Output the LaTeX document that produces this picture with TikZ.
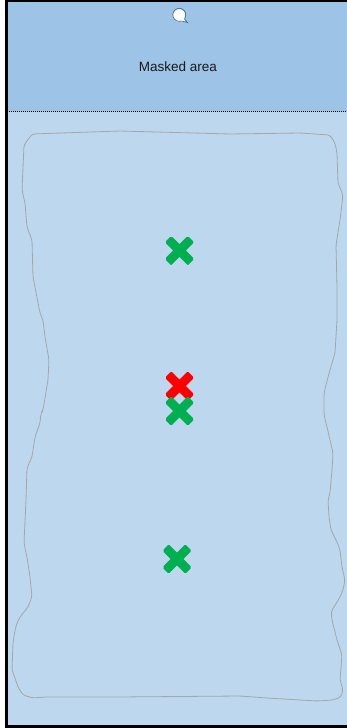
\documentclass[tikz,border=0pt]{standalone}
\usepackage{fontspec}
\setsansfont{Liberation Sans}
\usepackage{xcolor}

\definecolor{maskblue}{HTML}{9DC3E6}
\definecolor{areablue}{HTML}{BDD7EE}
\definecolor{outlinegray}{HTML}{A6A6A6}
\definecolor{goodgreen}{HTML}{00B050}
\definecolor{bubbleline}{HTML}{41719C}

\begin{document}
\begin{tikzpicture}[x=1pt, y=-1pt,
        xmark/.style={minimum size=27pt, inner sep=0pt,
            path picture={\draw[#1, line width=9pt]
                ([shift={(2,2)}]path picture bounding box.north west) -- ([shift={(-2,-2)}]path picture bounding box.south east)
                ([shift={(-2,2)}]path picture bounding box.north east) -- ([shift={(2,-2)}]path picture bounding box.south west);}}]
        \useasboundingbox (0,0) rectangle (347,728);

        % Regions
        \fill[areablue] (6.5,111) rectangle (348,726.5);
        \fill[maskblue] (6.5,1) rectangle (348,111);
        \draw[line width=1pt, dash pattern=on 1pt off 1pt] (6.5,111) -- (348,111);
        \node[font=\sffamily\fontsize{13.5}{15}\selectfont, text=black!90] (masklabel) at (178,67) {Masked area};

        % Comment bubble
        \draw[bubbleline, fill=white, line width=0.8pt] (184.5,19) -- (187.5,22.5) -- (181.5,21);
        \fill[white] (179,15.5) circle (6.5);
        \draw[bubbleline, line width=0.8pt] (181.5,21) arc (70:395:6.5);

        % Frame
        \draw[line width=2.2pt] (348,1) -- (6.5,1) -- (6.5,726.5) -- (348,726.5);

        % Hand drawn outline
        \draw[outlinegray, line width=0.8pt, rounded corners=3pt]
            (32,134) -- (120,131) -- (230,134) -- (300,133) -- (330,135) -- (335,143) -- (337,153)
            -- (338,183) -- (343,195) -- (340,220) -- (336,245) -- (337,287) -- (337,320)
            -- (335,353) -- (330,370) -- (328,377) -- (324,393) -- (324,415) -- (327,427)
            -- (333,453) -- (332,470) -- (330,493) -- (328,500) -- (329,517) -- (331,530)
            -- (337,542) -- (340,550) -- (342,567) -- (345,580) -- (343,590) -- (340,597)
            -- (331,612) -- (332,620) -- (337,640) -- (342,655) -- (340,680) -- (343,690)
            -- (341,697) -- (333,700) -- (317,701) -- (267,698) -- (240,696) -- (117,697)
            -- (45,697) -- (33,698) -- (23,695) -- (18,687) -- (15,678) -- (12,670)
            -- (13,643) -- (15,630) -- (17,623) -- (20,617) -- (28,607) -- (32,597)
            -- (30,577) -- (27,557) -- (24,543) -- (26,500) -- (27,468) -- (32,457)
            -- (35,437) -- (40,423) -- (41,413) -- (43,410) -- (48,380) -- (49,360)
            -- (45,337) -- (43,320) -- (40,313) -- (33,277) -- (32,240) -- (27,227)
            -- (25,203) -- (22,190) -- (24,145) -- cycle;

        % Points
        \node[xmark=goodgreen] (pointA) at (179.5,250.5) {};
        \node[xmark=red] (pointB) at (179.5,386) {};
        \node[xmark=goodgreen] (pointC) at (179.5,411) {};
        \node[xmark=goodgreen] (pointD) at (177,559) {};
    \end{tikzpicture}
\end{document}
